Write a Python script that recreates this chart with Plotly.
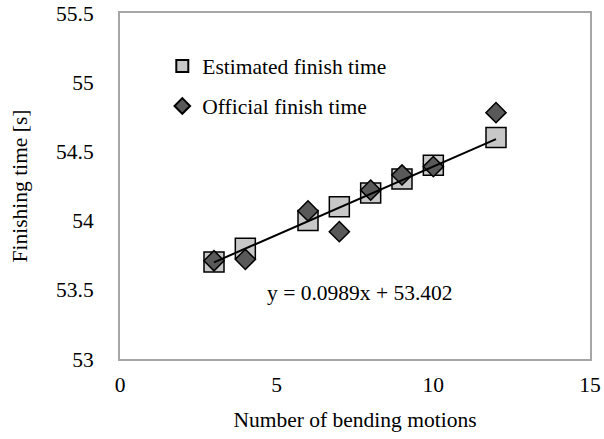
import numpy as np
import plotly.graph_objects as go

bends = [3, 4, 6, 7, 8, 9, 10, 12]
estimated = [53.70, 53.80, 54.00, 54.10, 54.20, 54.30, 54.40, 54.60]
official = [53.71, 53.72, 54.07, 53.92, 54.22, 54.33, 54.39, 54.78]
slope = 0.0989
intercept = 53.402
x_ticks = [0, 5, 10, 15]
y_ticks = [53, 53.5, 54, 54.5, 55, 55.5]

serif = "Liberation Serif, Times New Roman, serif"
FS = 21.5

fig = go.Figure()
fig.add_trace(go.Scatter(
    x=bends, y=estimated, mode="markers", name="Estimated finish time",
    legendgroup="est",
    marker=dict(symbol="square", size=20, color="#c8c8c8",
                line=dict(color="#000000", width=1.5)),
))
fig.add_trace(go.Scatter(
    x=bends, y=official, mode="markers", name="Official finish time",
    legendgroup="off",
    marker=dict(symbol="diamond", size=15.5, color="#595959",
                line=dict(color="#000000", width=1.5)),
))
tx = np.array([min(bends), max(bends)])
fig.add_trace(go.Scatter(
    x=tx, y=slope * tx + intercept, mode="lines", showlegend=False,
    line=dict(color="#000000", width=2), hoverinfo="skip",
))

fig.add_annotation(
    x=7.65, y=53.48, xref="x", yref="y", showarrow=False,
    text=f"y = {slope}x + {intercept}",
    font=dict(family=serif, size=FS, color="#000000"),
)

axis_common = dict(
    showgrid=False, zeroline=False, showline=True, mirror=True,
    linecolor="#a6a6a6", linewidth=2, ticks="", automargin=False,
    tickfont=dict(family=serif, size=FS, color="#000000"),
)

fig.update_layout(
    width=604, height=439,
    margin=dict(l=120, r=14, t=13, b=80),
    paper_bgcolor="white", plot_bgcolor="white",
    xaxis=dict(range=[0, 15], tickvals=x_ticks,
               title=dict(text="Number of bending motions",
                          font=dict(family=serif, size=FS, color="#000000"),
                          standoff=16),
               ticklabelstandoff=5, **axis_common),
    yaxis=dict(range=[53, 55.5], tickvals=y_ticks,
               title=dict(text="Finishing time [s]",
                          font=dict(family=serif, size=FS, color="#000000"),
                          standoff=23),
               ticklabelstandoff=20, **axis_common),
    legend=dict(x=0.09, y=0.906, xanchor="left", yanchor="top",
                font=dict(family=serif, size=FS, color="#000000"),
                itemsizing="constant", itemwidth=30, tracegroupgap=9,
                bgcolor="rgba(0,0,0,0)"),
    showlegend=True,
)

fig.write_html("out.html")
